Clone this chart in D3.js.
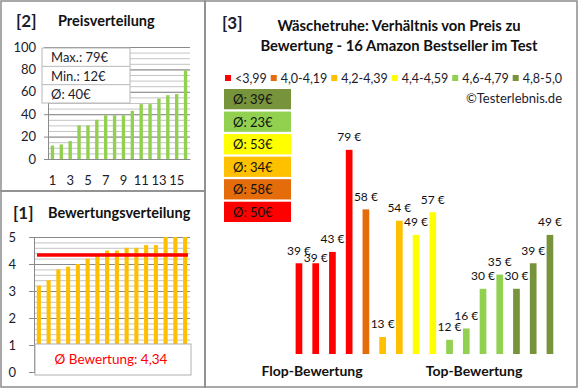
<!DOCTYPE html>
<html><head><meta charset="utf-8">
<script src="https://cdn.jsdelivr.net/npm/d3@7"></script>
<style>
body{margin:0;background:#fff}
svg{display:block;font-family:Lato,"Open Sans",sans-serif}
</style>
</head><body>
<svg id="chart" width="580" height="390"></svg>
<script>
// ---------- data ----------
const ratings = [3.2, 3.4, 3.8, 3.9, 4.0, 4.2, 4.3, 4.5, 4.5, 4.6, 4.6, 4.7, 4.7, 5.0, 5.0, 5.0];
const prices  = [39, 39, 43, 79, 58, 13, 54, 49, 57, 12, 16, 30, 35, 30, 39, 49];
const binLabels = ["<3,99", "4,0-4,19", "4,2-4,39", "4,4-4,59", "4,6-4,79", "4,8-5,0"];
const binLower  = [0, 4.0, 4.2, 4.4, 4.6, 4.8];
const priceTicks  = [0, 20, 40, 60, 80, 100];
const priceXTicks = [1, 3, 5, 7, 9, 11, 13, 15];
const ratingTicks = [0, 1, 2, 3, 4, 5];

// ---------- styles ----------
const binColors = ["#FF0000", "#E46C0A", "#FFC000", "#FFFF00", "#92D050", "#77933C"];
const textCol = "#1c1c2c";
const majorCol = "#8a8a8a", minorCol = "#c4c4c4", frameCol = "#8c8c8c";

const svg = d3.select("#chart");
const binOf = r => d3.bisectRight(binLower, r) - 1;

// ---------- frames ----------
svg.append("rect").attr("x",1).attr("y",1).attr("width",204).attr("height",190)
  .attr("fill","none").attr("stroke",frameCol).attr("stroke-width",1.5);
svg.append("rect").attr("x",1).attr("y",191).attr("width",204).attr("height",196)
  .attr("fill","none").attr("stroke",frameCol).attr("stroke-width",1.5);
svg.append("rect").attr("x",205).attr("y",1).attr("width",372).attr("height",386)
  .attr("fill","none").attr("stroke",frameCol).attr("stroke-width",1.5);

function title(tag, txt, x1, x2, y, fs) {
  svg.append("text").attr("x",x1).attr("y",y).attr("dominant-baseline","central")
    .attr("font-size",17).attr("font-weight","bold").attr("fill",textCol).text(tag);
  svg.append("text").attr("x",x2).attr("y",y).attr("dominant-baseline","central")
    .attr("font-size",fs).attr("font-weight","bold").attr("fill","#111").text(txt);
}
title("[2]", "Preisverteilung", 16, 58, 20, 14.5);
title("[1]", "Bewertungsverteilung", 13, 48, 212, 14.5);

function styleTicks(g) {
  g.selectAll("text").attr("font-size",13).attr("fill",textCol).attr("font-family","Lato,'Open Sans',sans-serif");
}

// ---------- [2] Preisverteilung ----------
const sortedPrices = d3.sort(prices);
const x2 = d3.scaleBand().domain(d3.range(1,17)).range([48,190]).paddingInner(0.62).paddingOuter(0.31);
const y2 = d3.scaleLinear().domain([0,100]).range([159,47]);
const p2 = svg.append("g");
p2.append("g").attr("transform","translate(48,0)")
  .call(d3.axisLeft(y2).tickValues(d3.range(0,101,5)).tickSize(-142).tickFormat(""))
  .call(g=>g.select(".domain").remove())
  .call(g=>g.selectAll("line").attr("stroke",minorCol));
p2.append("g").attr("transform","translate(48,0)")
  .call(d3.axisLeft(y2).tickValues(priceTicks).tickSizeInner(-142).tickSizeOuter(0).tickPadding(12).tickFormat(d3.format("d")))
  .call(g=>g.select(".domain").attr("stroke",majorCol))
  .call(g=>g.selectAll("line").attr("stroke",majorCol))
  .call(styleTicks);
p2.append("g").attr("transform","translate(48,0)")
  .call(d3.axisLeft(y2).tickValues(priceTicks).tickSize(4).tickFormat(""))
  .call(g=>g.select(".domain").remove())
  .call(g=>g.selectAll("line").attr("stroke",majorCol));
p2.append("g").attr("transform","translate(0,159)")
  .call(d3.axisBottom(x2).tickValues(priceXTicks).tickSize(0).tickPadding(17))
  .call(g=>g.select(".domain").attr("stroke",majorCol))
  .call(styleTicks);
p2.selectAll("rect.bar").data(sortedPrices).join("rect").attr("class","bar")
  .attr("x",(d,i)=>x2(i+1)).attr("width",x2.bandwidth())
  .attr("y",d=>y2(d)).attr("height",d=>y2(0)-y2(d)).attr("fill","#92D050");
const stats = [["Max.: ", d3.max(prices)], ["Min.: ", d3.min(prices)], ["Ø: ", Math.round(d3.mean(prices))]];
const sy = d3.scaleBand().domain(d3.range(stats.length)).range([48,103]);
const sb = p2.append("g");
sb.append("rect").attr("x",42).attr("y",48).attr("width",88).attr("height",55)
  .attr("fill","#fff").attr("stroke","#b8b8b8");
sb.selectAll("line").data(d3.range(1,stats.length)).join("line")
  .attr("x1",42).attr("x2",130).attr("y1",d=>sy(d)).attr("y2",d=>sy(d)).attr("stroke","#b8b8b8");
sb.selectAll("text").data(stats).join("text")
  .attr("x",51).attr("y",(d,i)=>sy(i)+sy.bandwidth()/2).attr("dominant-baseline","central")
  .attr("font-size",13).attr("fill",textCol).text(d=>d[0]+d[1]+"€");

// ---------- [1] Bewertungsverteilung ----------
const x1 = d3.scaleBand().domain(d3.range(1,17)).range([34,190]).paddingInner(0.58).paddingOuter(0.29);
const y1 = d3.scaleLinear().domain([0,5]).range([372,237]);
const p1 = svg.append("g");
p1.append("g").attr("transform","translate(34,0)")
  .call(d3.axisLeft(y1).tickValues(d3.range(0,5.01,0.2)).tickSize(-156).tickFormat(""))
  .call(g=>g.select(".domain").remove())
  .call(g=>g.selectAll("line").attr("stroke",minorCol));
p1.append("g").attr("transform","translate(34,0)")
  .call(d3.axisLeft(y1).tickValues(ratingTicks).tickSizeInner(-156).tickSizeOuter(0).tickPadding(18).tickFormat(d3.format("d")))
  .call(g=>g.select(".domain").attr("stroke",majorCol))
  .call(g=>g.selectAll("line").attr("stroke",majorCol))
  .call(styleTicks);
p1.append("g").attr("transform","translate(34,0)")
  .call(d3.axisLeft(y1).tickValues(ratingTicks).tickSize(5).tickFormat(""))
  .call(g=>g.select(".domain").remove())
  .call(g=>g.selectAll("line").attr("stroke",majorCol));
p1.selectAll("rect.bar").data(ratings).join("rect").attr("class","bar")
  .attr("x",(d,i)=>x1(i+1)).attr("width",x1.bandwidth())
  .attr("y",d=>y1(d)).attr("height",d=>y1(0)-y1(d)).attr("fill","#FFC000");
const meanRating = d3.mean(ratings);
p1.append("line").attr("x1",37).attr("x2",188).attr("y1",y1(meanRating)).attr("y2",y1(meanRating))
  .attr("stroke","#FF0000").attr("stroke-width",3.5);
p1.append("rect").attr("x",35).attr("y",344).attr("width",156).attr("height",31)
  .attr("fill","#fff").attr("stroke","#b0b0b0");
p1.append("text").attr("x",111).attr("y",359).attr("text-anchor","middle").attr("dominant-baseline","central")
  .attr("font-size",13.5).attr("fill","#FF0000")
  .text("Ø Bewertung: " + meanRating.toFixed(2).replace(".", ","));

// ---------- [3] Preis zu Bewertung ----------
const p3 = svg.append("g");
p3.append("text").attr("x",222).attr("y",22).attr("dominant-baseline","central")
  .attr("font-size",17).attr("font-weight","bold").attr("fill",textCol).text("[3]");
const titleLines = ["Wäschetruhe: Verhältnis von Preis zu", "Bewertung - 16 Amazon Bestseller im Test"];
p3.selectAll("text.tl").data(titleLines).join("text").attr("class","tl")
  .attr("x",399).attr("y",(d,i)=>25+i*20).attr("text-anchor","middle").attr("dominant-baseline","central")
  .attr("font-size",14.8).attr("font-weight","bold").attr("fill","#111").text(d=>d);

// legend (spread across the same width as the reference legend)
const lg = p3.append("g").attr("transform","translate(225,78)");
const items = binLabels.map((lab,i)=>{
  const it = lg.append("g");
  it.append("rect").attr("x",0).attr("y",-3).attr("width",6).attr("height",6).attr("fill",binColors[i]);
  const t = it.append("text").attr("x",10).attr("y",0).attr("dominant-baseline","central")
    .attr("font-size",12.5).attr("fill",textCol).text(lab);
  return {g: it, w: 10 + t.node().getComputedTextLength()};
});
const gap = (337 - d3.sum(items, d=>d.w)) / (items.length - 1);
let lx = 0;
items.forEach(it=>{ it.g.attr("transform",`translate(${lx},0)`); lx += it.w + gap; });

p3.append("text").attr("x",562).attr("y",98).attr("text-anchor","end").attr("dominant-baseline","central")
  .attr("font-size",13).attr("fill",textCol).text("©Testerlebnis.de");

// average boxes
const binIdx = d3.range(binLabels.length).reverse();
const avgBy = binIdx.map(b => Math.round(d3.mean(prices.filter((p,i)=>binOf(ratings[i])===b))));
const ab = d3.scaleBand().domain(binIdx).range([89,222]).paddingInner(0.1);
const boxes = p3.selectAll("g.avg").data(binIdx).join("g").attr("class","avg");
boxes.append("rect").attr("x",224).attr("y",d=>ab(d)).attr("width",67).attr("height",ab.bandwidth())
  .attr("fill",d=>binColors[d]);
boxes.append("text").attr("x",233).attr("y",d=>ab(d)+ab.bandwidth()/2).attr("dominant-baseline","central")
  .attr("font-size",13).attr("fill","#111").text((d,i)=>"Ø: "+avgBy[i]+"€");

// bars
const x3 = d3.scaleBand().domain(d3.range(prices.length)).range([290.6,558.3]).paddingInner(0.6).paddingOuter(0.3);
const y3 = d3.scaleLinear().domain([7,80]).range([354,147]);
p3.selectAll("rect.bar").data(prices).join("rect").attr("class","bar")
  .attr("x",(d,i)=>x3(i)).attr("width",x3.bandwidth())
  .attr("y",d=>y3(d)).attr("height",d=>y3(7)-y3(d))
  .attr("fill",(d,i)=>binColors[binOf(ratings[i])]);
// value labels, nudged down when they would sit on top of the previous label
const labelY = [];
prices.forEach((d,i)=>{
  let y = y3(d) - 13;
  if (i > 0 && Math.abs(y - labelY[i-1]) < 6) y = labelY[i-1] + 7;
  labelY.push(y);
});
p3.selectAll("text.val").data(prices).join("text").attr("class","val")
  .attr("x",(d,i)=>x3(i)+x3.bandwidth()/2).attr("y",(d,i)=>labelY[i])
  .attr("text-anchor","middle").attr("dominant-baseline","central")
  .attr("font-size",12).attr("fill","#111").text(d=>d+" €");

p3.append("text").attr("x",312).attr("y",370).attr("text-anchor","middle").attr("dominant-baseline","central")
  .attr("font-size",14).attr("font-weight","bold").attr("fill","#111").text("Flop-Bewertung");
p3.append("text").attr("x",474).attr("y",370).attr("text-anchor","middle").attr("dominant-baseline","central")
  .attr("font-size",14).attr("font-weight","bold").attr("fill","#111").text("Top-Bewertung");
</script>
</body></html>
